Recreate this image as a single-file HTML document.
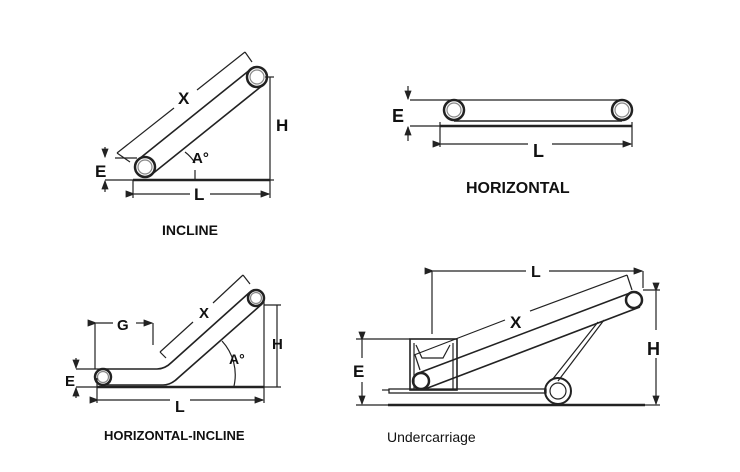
<html><body style="margin:0;background:#fff">
<svg width="740" height="472" viewBox="0 0 740 472" xmlns="http://www.w3.org/2000/svg" font-family="Liberation Sans, Arial, sans-serif">
<defs><marker id="a" markerWidth="8" markerHeight="6" refX="7" refY="3" orient="auto"><path d="M0,0L8,3L0,6z" fill="#222"/></marker></defs>
<g stroke="#222" fill="none" stroke-width="1.2">
<!-- INCLINE -->
<circle cx="145" cy="167" r="10" stroke-width="2.5"/><circle cx="145" cy="167" r="7" stroke="#888"/>
<circle cx="257" cy="77" r="10" stroke-width="2.5"/><circle cx="257" cy="77" r="7" stroke="#888"/>
<line x1="139" y1="159" x2="251" y2="69" stroke-width="1.6"/><line x1="151" y1="175" x2="263" y2="85" stroke-width="1.6"/>
<line x1="133" y1="180" x2="270" y2="180" stroke-width="2.5"/>
<line x1="265" y1="77" x2="274" y2="77"/><line x1="270" y1="77" x2="270" y2="180"/><line x1="266" y1="180" x2="274" y2="180"/>
<line x1="133" y1="180" x2="133" y2="198"/><line x1="270" y1="180" x2="270" y2="198"/>
<line x1="134" y1="194" x2="190" y2="194" marker-start="url(#a)"/><line x1="210" y1="194" x2="269" y2="194" marker-end="url(#a)"/>
<line x1="117" y1="153" x2="174" y2="108"/><line x1="197" y1="90" x2="245" y2="52"/>
<line x1="117" y1="153" x2="130" y2="162"/><line x1="245" y1="52" x2="252" y2="62"/>
<line x1="115" y1="158" x2="137" y2="158"/><line x1="105" y1="180" x2="133" y2="180"/>
<line x1="105" y1="147" x2="105" y2="157" marker-end="url(#a)"/><line x1="105" y1="192" x2="105" y2="181" marker-end="url(#a)"/>
<path d="M185,152 A 40 40 0 0 1 195 163"/><line x1="195" y1="170" x2="195" y2="180"/>
<!-- HORIZONTAL -->
<circle cx="454" cy="110" r="10" stroke-width="2.5"/><circle cx="454" cy="110" r="7" stroke="#888"/>
<circle cx="622" cy="110" r="10" stroke-width="2.5"/><circle cx="622" cy="110" r="7" stroke="#888"/>
<line x1="410" y1="100" x2="622" y2="100"/><line x1="454" y1="121" x2="622" y2="121" stroke-width="1.6"/>
<line x1="440" y1="126" x2="632" y2="126" stroke-width="2.5"/><line x1="410" y1="126" x2="440" y2="126"/>
<line x1="440" y1="122" x2="440" y2="147"/><line x1="632" y1="122" x2="632" y2="147"/>
<line x1="441" y1="144" x2="528" y2="144" marker-start="url(#a)"/><line x1="552" y1="144" x2="631" y2="144" marker-end="url(#a)"/>
<line x1="408" y1="86" x2="408" y2="99" marker-end="url(#a)"/><line x1="408" y1="141" x2="408" y2="127" marker-end="url(#a)"/>
<!-- HORIZONTAL-INCLINE -->
<circle cx="103" cy="377" r="8" stroke-width="2.5"/><circle cx="103" cy="377" r="5.5" stroke="#888"/>
<circle cx="256" cy="298" r="8" stroke-width="2.5"/><circle cx="256" cy="298" r="5.5" stroke="#888"/>
<path d="M103,369 L157,369 Q165,369 172,362 L250,292" stroke-width="1.6"/>
<path d="M103,385 L163,385 Q171,385 178,378 L262,304" stroke-width="1.6"/>
<line x1="97" y1="387" x2="264" y2="387" stroke-width="2.5"/>
<line x1="264" y1="305" x2="281" y2="305"/><line x1="277" y1="305" x2="277" y2="387"/><line x1="264" y1="387" x2="281" y2="387"/>
<line x1="264" y1="298" x2="264" y2="403"/><line x1="97" y1="378" x2="97" y2="403"/>
<line x1="98" y1="400" x2="170" y2="400" marker-start="url(#a)"/><line x1="190" y1="400" x2="263" y2="400" marker-end="url(#a)"/>
<line x1="95" y1="323" x2="95" y2="369"/><line x1="153" y1="323" x2="153" y2="345"/>
<line x1="96" y1="323" x2="113" y2="323" marker-start="url(#a)"/><line x1="136" y1="323" x2="152" y2="323" marker-end="url(#a)"/>
<line x1="160" y1="352" x2="193" y2="322"/><line x1="213" y1="303" x2="243" y2="275"/>
<line x1="160" y1="352" x2="166" y2="358"/><line x1="243" y1="275" x2="250" y2="284"/>
<line x1="76" y1="369" x2="100" y2="369"/><line x1="76" y1="387" x2="97" y2="387"/>
<line x1="76" y1="358" x2="76" y2="368" marker-end="url(#a)"/><line x1="76" y1="398" x2="76" y2="388" marker-end="url(#a)"/>
<path d="M222,341 A 50 50 0 0 1 234 386"/>
<!-- UNDERCARRIAGE -->
<circle cx="421" cy="381" r="8" stroke-width="2.5"/>
<circle cx="634" cy="300" r="8" stroke-width="2.5"/>
<line x1="416" y1="374" x2="630" y2="293" stroke-width="1.6"/><line x1="425" y1="389" x2="640" y2="307" stroke-width="1.6"/>
<rect x="410" y="339" width="47" height="51" stroke-width="1.6"/>
<line x1="414" y1="343" x2="414" y2="390"/><line x1="453" y1="343" x2="453" y2="390"/>
<path d="M416,345 L422,358 L443,358 L450,345"/><line x1="415" y1="355" x2="420" y2="370"/>
<rect x="389" y="389" width="157" height="4" stroke-width="1.3"/><line x1="382" y1="390" x2="389" y2="390"/>
<circle cx="558" cy="391" r="13" stroke-width="2"/><circle cx="558" cy="391" r="8"/>
<line x1="552" y1="380" x2="598" y2="322"/><line x1="558" y1="381" x2="604" y2="320"/>
<line x1="388" y1="405" x2="645" y2="405" stroke-width="2.5"/>
<line x1="432" y1="334" x2="432" y2="271"/><line x1="643" y1="271" x2="643" y2="288"/>
<line x1="433" y1="271" x2="526" y2="271" marker-start="url(#a)"/><line x1="549" y1="271" x2="642" y2="271" marker-end="url(#a)"/>
<line x1="643" y1="290" x2="660" y2="290"/><line x1="645" y1="405" x2="660" y2="405"/>
<line x1="656" y1="291" x2="656" y2="330" marker-start="url(#a)"/><line x1="656" y1="358" x2="656" y2="404" marker-end="url(#a)"/>
<line x1="356" y1="339" x2="410" y2="339"/><line x1="356" y1="405" x2="388" y2="405"/>
<line x1="362" y1="340" x2="362" y2="358" marker-start="url(#a)"/><line x1="362" y1="382" x2="362" y2="404" marker-end="url(#a)"/>
<line x1="414" y1="355" x2="505" y2="320"/><line x1="530" y1="311" x2="627" y2="275"/>
<line x1="627" y1="275" x2="632" y2="290"/>
</g>
<g fill="#111" font-weight="bold">
<text x="178" y="104" font-size="17">X</text>
<text x="276" y="131" font-size="17">H</text>
<text x="95" y="177" font-size="17">E</text>
<text x="192" y="163" font-size="15">A°</text>
<text x="194" y="200" font-size="17">L</text>
<text x="162" y="235" font-size="14">INCLINE</text>
<text x="392" y="122" font-size="18">E</text>
<text x="533" y="157" font-size="18">L</text>
<text x="466" y="193" font-size="16">HORIZONTAL</text>
<text x="117" y="330" font-size="15">G</text>
<text x="199" y="318" font-size="15">X</text>
<text x="272" y="349" font-size="15">H</text>
<text x="229" y="364" font-size="14">A°</text>
<text x="65" y="386" font-size="15">E</text>
<text x="175" y="412" font-size="16">L</text>
<text x="104" y="440" font-size="13">HORIZONTAL-INCLINE</text>
<text x="531" y="277" font-size="16">L</text>
<text x="510" y="328" font-size="17">X</text>
<text x="647" y="355" font-size="18">H</text>
<text x="353" y="377" font-size="17">E</text>
</g>
<text x="387" y="442" font-size="14" fill="#111">Undercarriage</text>
</svg>
</body></html>
